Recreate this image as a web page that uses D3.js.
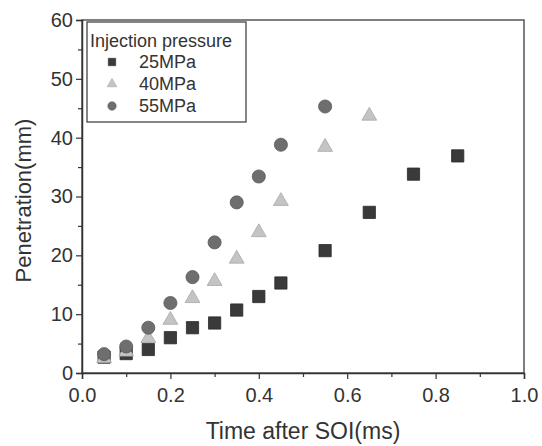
<!DOCTYPE html>
<html>
<head>
<meta charset="utf-8">
<script src="https://cdn.jsdelivr.net/npm/d3@7"></script>
<style>
  body { margin: 0; background: #fff; }
  svg { font-family: "Liberation Sans", Arial, sans-serif; }
</style>
</head>
<body>
<div id="chart"></div>
<script>
// time after start of injection (ms)
const times25 = [0.05, 0.10, 0.15, 0.20, 0.25, 0.30, 0.35, 0.40, 0.45, 0.55, 0.65, 0.75, 0.85];
const pen25   = [2.7, 3.3, 4.0, 6.0, 7.7, 8.5, 10.7, 13.0, 15.3, 20.8, 27.3, 33.8, 36.9];

const times40 = [0.05, 0.10, 0.15, 0.20, 0.25, 0.30, 0.35, 0.40, 0.45, 0.55, 0.65];
const pen40   = [2.5, 3.6, 5.9, 9.0, 12.7, 15.6, 19.4, 23.9, 29.2, 38.4, 43.7];

const times55 = [0.05, 0.10, 0.15, 0.20, 0.25, 0.30, 0.35, 0.40, 0.45, 0.55];
const pen55   = [3.2, 4.5, 7.7, 11.9, 16.3, 22.2, 29.0, 33.4, 38.8, 45.3];

const seriesNames = ["25MPa", "40MPa", "55MPa"];
const xTicks = [0, 0.2, 0.4, 0.6, 0.8, 1.0];
const yTicks = [0, 10, 20, 30, 40, 50, 60];

const W = 542, H = 446;
const margin = { top: 20, right: 18, bottom: 73, left: 82 };
const innerW = W - margin.left - margin.right;
const innerH = H - margin.top - margin.bottom;

const svg = d3.select("#chart").append("svg")
  .attr("width", W)
  .attr("height", H);

const g = svg.append("g")
  .attr("transform", `translate(${margin.left},${margin.top})`);

const x = d3.scaleLinear().domain([0, 1]).range([0, innerW]);
const y = d3.scaleLinear().domain([0, 60]).range([innerH, 0]);

const ink = "#333";

// frame
g.append("rect")
  .attr("width", innerW)
  .attr("height", innerH)
  .attr("fill", "none")
  .attr("stroke", "#555")
  .attr("stroke-width", 1.5);

// axes (major + minor ticks)
const xAxis = g.append("g")
  .attr("transform", `translate(0,${innerH})`)
  .call(d3.axisBottom(x).tickValues(xTicks).tickFormat(d3.format(".1f")).tickSize(6).tickPadding(9));
g.append("g")
  .attr("transform", `translate(0,${innerH})`)
  .call(d3.axisBottom(x).tickValues(d3.range(0.1, 1, 0.2)).tickFormat("").tickSize(4))
  .call(a => a.select(".domain").remove());

const yAxis = g.append("g")
  .call(d3.axisLeft(y).tickValues(yTicks).tickSize(6).tickPadding(3));
g.append("g")
  .call(d3.axisLeft(y).tickValues(d3.range(5, 60, 10)).tickFormat("").tickSize(4))
  .call(a => a.select(".domain").remove());

g.selectAll(".domain").attr("stroke", ink).attr("stroke-width", 1.5);
g.selectAll(".tick line").attr("stroke", ink).attr("stroke-width", 1.2);
xAxis.selectAll("text").attr("font-size", 20).attr("fill", ink);
yAxis.selectAll("text").attr("font-size", 20).attr("fill", ink);

// axis titles
svg.append("text")
  .attr("x", margin.left + innerW / 2)
  .attr("y", 439)
  .attr("text-anchor", "middle")
  .attr("font-size", 23)
  .attr("fill", ink)
  .text("Time after SOI(ms)");

svg.append("text")
  .attr("transform", `translate(31,${margin.top + innerH / 2 + 4}) rotate(-90)`)
  .attr("text-anchor", "middle")
  .attr("font-size", 22)
  .attr("fill", ink)
  .text("Penetration(mm)");

// data points
const sq = d3.symbol().type(d3.symbolSquare).size(150);
const tri = d3.symbol().type(d3.symbolTriangle).size(95);
const circ = d3.symbol().type(d3.symbolCircle).size(135);

const series = [
  { name: seriesNames[0], t: times25, v: pen25, sym: sq,   fill: "#3a3a3a", stroke: "#2a2a2a" },
  { name: seriesNames[1], t: times40, v: pen40, sym: tri,  fill: "#c4c4c4", stroke: "#a8a8a8" },
  { name: seriesNames[2], t: times55, v: pen55, sym: circ, fill: "#6e6e6e", stroke: "#5a5a5a" }
];

series.forEach(s => {
  g.append("g").selectAll("path")
    .data(s.t.map((t, i) => ({ t, v: s.v[i] })))
    .join("path")
    .attr("transform", d => `translate(${x(d.t)},${y(d.v)})`)
    .attr("d", s.sym)
    .attr("fill", s.fill)
    .attr("stroke", s.stroke)
    .attr("stroke-width", 0.8);
});

// legend
const leg = svg.append("g").attr("transform", "translate(87,22)");
leg.append("rect")
  .attr("width", 159)
  .attr("height", 100)
  .attr("fill", "#fff")
  .attr("stroke", "#444")
  .attr("stroke-width", 1.3);
leg.append("text")
  .attr("x", 3)
  .attr("y", 25)
  .attr("font-size", 18)
  .attr("fill", ink)
  .text("Injection pressure");

const legSyms = [
  d3.symbol().type(d3.symbolSquare).size(55),
  d3.symbol().type(d3.symbolTriangle).size(40),
  d3.symbol().type(d3.symbolCircle).size(55)
];
series.forEach((s, i) => {
  const row = leg.append("g").attr("transform", `translate(0,${46 + i * 22})`);
  row.append("path")
    .attr("transform", "translate(25,-6)")
    .attr("d", legSyms[i])
    .attr("fill", s.fill)
    .attr("stroke", s.stroke)
    .attr("stroke-width", 0.6);
  row.append("text")
    .attr("x", 52)
    .attr("y", 0)
    .attr("font-size", 18)
    .attr("fill", ink)
    .text(s.name);
});
</script>
</body>
</html>
